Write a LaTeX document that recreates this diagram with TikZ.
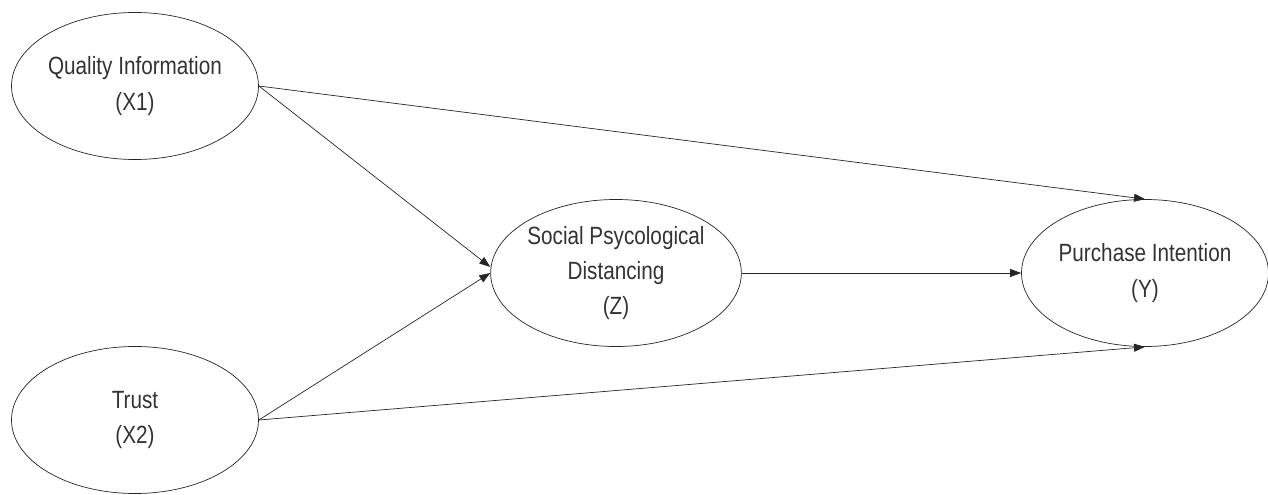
\documentclass[tikz,border=0pt]{standalone}
\usepackage{fontspec}
\setmainfont{Liberation Sans}[FakeStretch=0.83]
\usepackage{tikz}
\usetikzlibrary{shapes,arrows.meta,positioning}

\begin{document}
\begin{tikzpicture}[
    var/.style={ellipse, draw=black!85, thin, inner sep=0pt, minimum width=4.94cm,
                minimum height=2.94cm, align=center, font=\fontsize{14.2}{20}\selectfont,
                text=black!80},
    arr/.style={-{Triangle[length=2.2mm, width=1.6mm]}, thin, black!85}
]
    \useasboundingbox (0,0) rectangle (25.36,9.9);
    \node[var] (x1) at (2.70,8.18) {Quality Information\\(X1)};
    \node[var] (x2) at (2.70,1.50) {Trust\\(X2)};
    \node[var] (z) at (12.32,4.44) {Social Psycological\\Distancing\\(Z)};
    \node[var] (y) at (22.90,4.44) {Purchase Intention\\(Y)};

    \draw[arr] (x1.east) -- ([yshift=1.2mm]z.west);
    \draw[arr] (x2.east) -- (z.west);
    \draw[arr] (z.east) -- (y.west);
    \draw[arr] (x1.east) -- (y.north);
    \draw[arr] (x2.east) -- (y.south);
\end{tikzpicture}
\end{document}
